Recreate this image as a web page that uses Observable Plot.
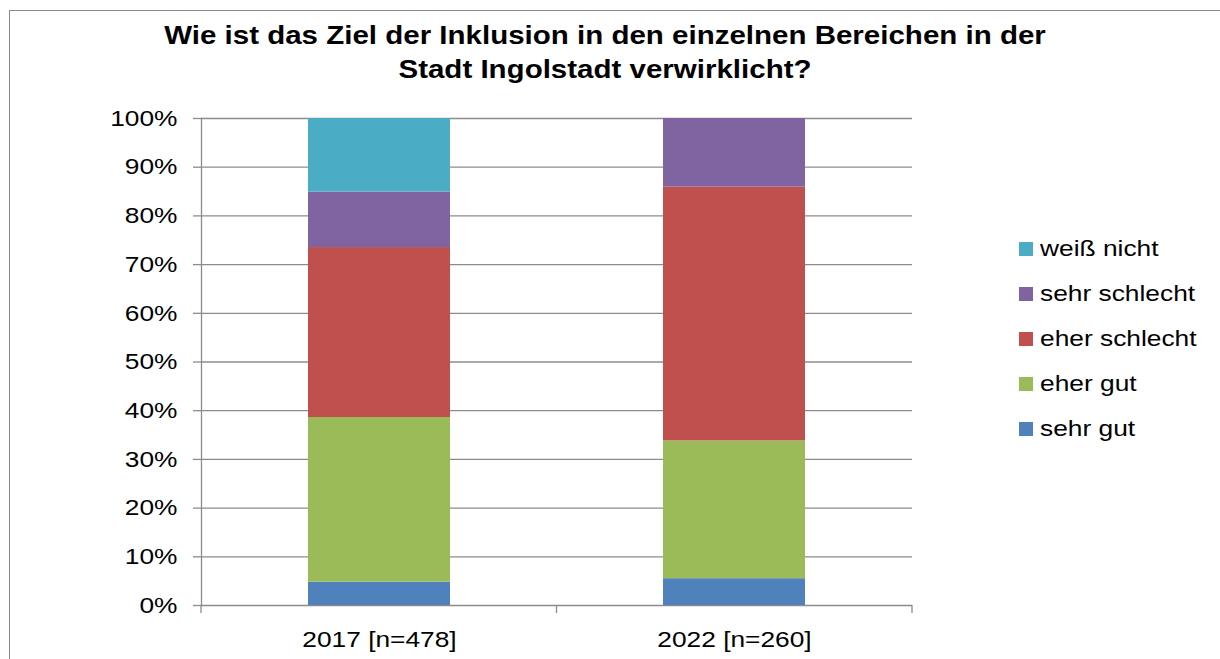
<!DOCTYPE html>
<html>
<head>
<meta charset="utf-8">
<script src="https://cdn.jsdelivr.net/npm/d3@7"></script>
<script src="https://cdn.jsdelivr.net/npm/@observablehq/plot@0.6"></script>
<style>
  html, body { margin: 0; padding: 0; background: #fff; }
  body { font-family: "Liberation Sans", Arial, sans-serif; color: #000; }
  #wrap { position: relative; width: 1220px; height: 659px; overflow: hidden; }
  #frame { position: absolute; left: 9px; top: 10px; width: 1240px; height: 700px; border: 1.5px solid #8a8a8a; box-sizing: border-box; }
  #title { position: absolute; left: 0; top: 18px; width: 1210px; text-align: center; font-weight: bold; font-size: 25px; line-height: 34px; transform: scaleX(1.18); transform-origin: 605px 0; }
  #chart { position: absolute; left: 0; top: 0; }
  #legend { position: absolute; left: 1019px; top: 226px; }
  .li { display: flex; align-items: center; height: 45.2px; font-size: 22.5px; }
  .li span.t { display: inline-block; transform: scaleX(1.17); transform-origin: left center; white-space: nowrap; }
  .sw { width: 14px; height: 14px; margin-right: 7px; flex: none; }
</style>
</head>
<body>
<div id="wrap">
  <div id="frame"></div>
  <div id="chart"></div>
  <div id="title">Wie ist das Ziel der Inklusion in den einzelnen Bereichen in der<br>Stadt Ingolstadt verwirklicht?</div>
  <div id="legend"></div>
</div>
<script>
const years = ["2017 [n=478]", "2022 [n=260]"];
const categories = ["sehr gut", "eher gut", "eher schlecht", "sehr schlecht", "weiß nicht"];
const colors = ["#4F81BD", "#9BBB59", "#C0504D", "#8064A2", "#4BACC6"];
const values2017 = [4.8, 33.8, 34.9, 11.4, 15.1];
const values2022 = [5.5, 28.3, 52.1, 14.1, 0];
const yTicks = [0, 10, 20, 30, 40, 50, 60, 70, 80, 90, 100];

const data = [];
[values2017, values2022].forEach((vals, i) => {
  vals.forEach((v, j) => data.push({year: years[i], cat: categories[j], value: v}));
});

const gridColor = "#8c8c8c";

// Excel-style category boundary ticks on the x axis
function boundaryTicks(index, scales, values, dims) {
  const left = dims.marginLeft, right = dims.width - dims.marginRight;
  const y0 = dims.height - dims.marginBottom;
  const n = years.length;
  const g = d3.create("svg:g").attr("stroke", gridColor).attr("stroke-width", 1.3);
  for (let i = 0; i <= n; i++) {
    const x = left + i * (right - left) / n;
    g.append("line").attr("x1", x).attr("x2", x).attr("y1", y0).attr("y2", y0 + 8);
  }
  return g.node();
}

const chart = Plot.plot({
  width: 1220,
  height: 659,
  marginTop: 118,
  marginBottom: 54,
  marginLeft: 201,
  marginRight: 308,
  style: {fontFamily: "'Liberation Sans', Arial, sans-serif", fontSize: "22.5px", color: "#000", background: "transparent"},
  x: {domain: years, paddingInner: 0.6, paddingOuter: 0.3, label: null},
  y: {domain: [0, 100], label: null},
  color: {domain: categories, range: colors},
  marks: [
    Plot.ruleY(yTicks, {stroke: gridColor, strokeWidth: 1.3, strokeOpacity: 1}),
    Plot.barY(data, {x: "year", y: "value", fill: "cat", order: categories}),
    Plot.frame({anchor: "left", stroke: gridColor, strokeWidth: 1.3}),
    Plot.axisY({ticks: yTicks, tickFormat: d => d + "%", tickSize: 8, tickPadding: 16, stroke: gridColor, strokeWidth: 1.3, fontSize: 22.5, fill: "#000"}),
    Plot.axisX({tickSize: 0, tickPadding: 26, fontSize: 22.5, fill: "#000"}),
    boundaryTicks
  ]
});
document.getElementById("chart").appendChild(chart);

// widen tick labels horizontally (the reference text is horizontally stretched)
const stretch = 1.17;
chart.querySelectorAll('[aria-label="y-axis tick label"] text, [aria-label="x-axis tick label"] text').forEach(t => {
  const tr = t.getAttribute("transform");
  t.setAttribute("transform", (tr ? tr + " " : "") + `scale(${stretch},1)`);
  const xa = t.getAttribute("x");
  if (xa != null && !isNaN(+xa)) t.setAttribute("x", +xa / stretch);
});

const legend = document.getElementById("legend");
categories.slice().reverse().forEach(c => {
  const row = document.createElement("div");
  row.className = "li";
  const sw = document.createElement("span");
  sw.className = "sw";
  sw.style.background = colors[categories.indexOf(c)];
  const t = document.createElement("span");
  t.className = "t";
  t.textContent = c;
  row.appendChild(sw);
  row.appendChild(t);
  legend.appendChild(row);
});
</script>
</body>
</html>
